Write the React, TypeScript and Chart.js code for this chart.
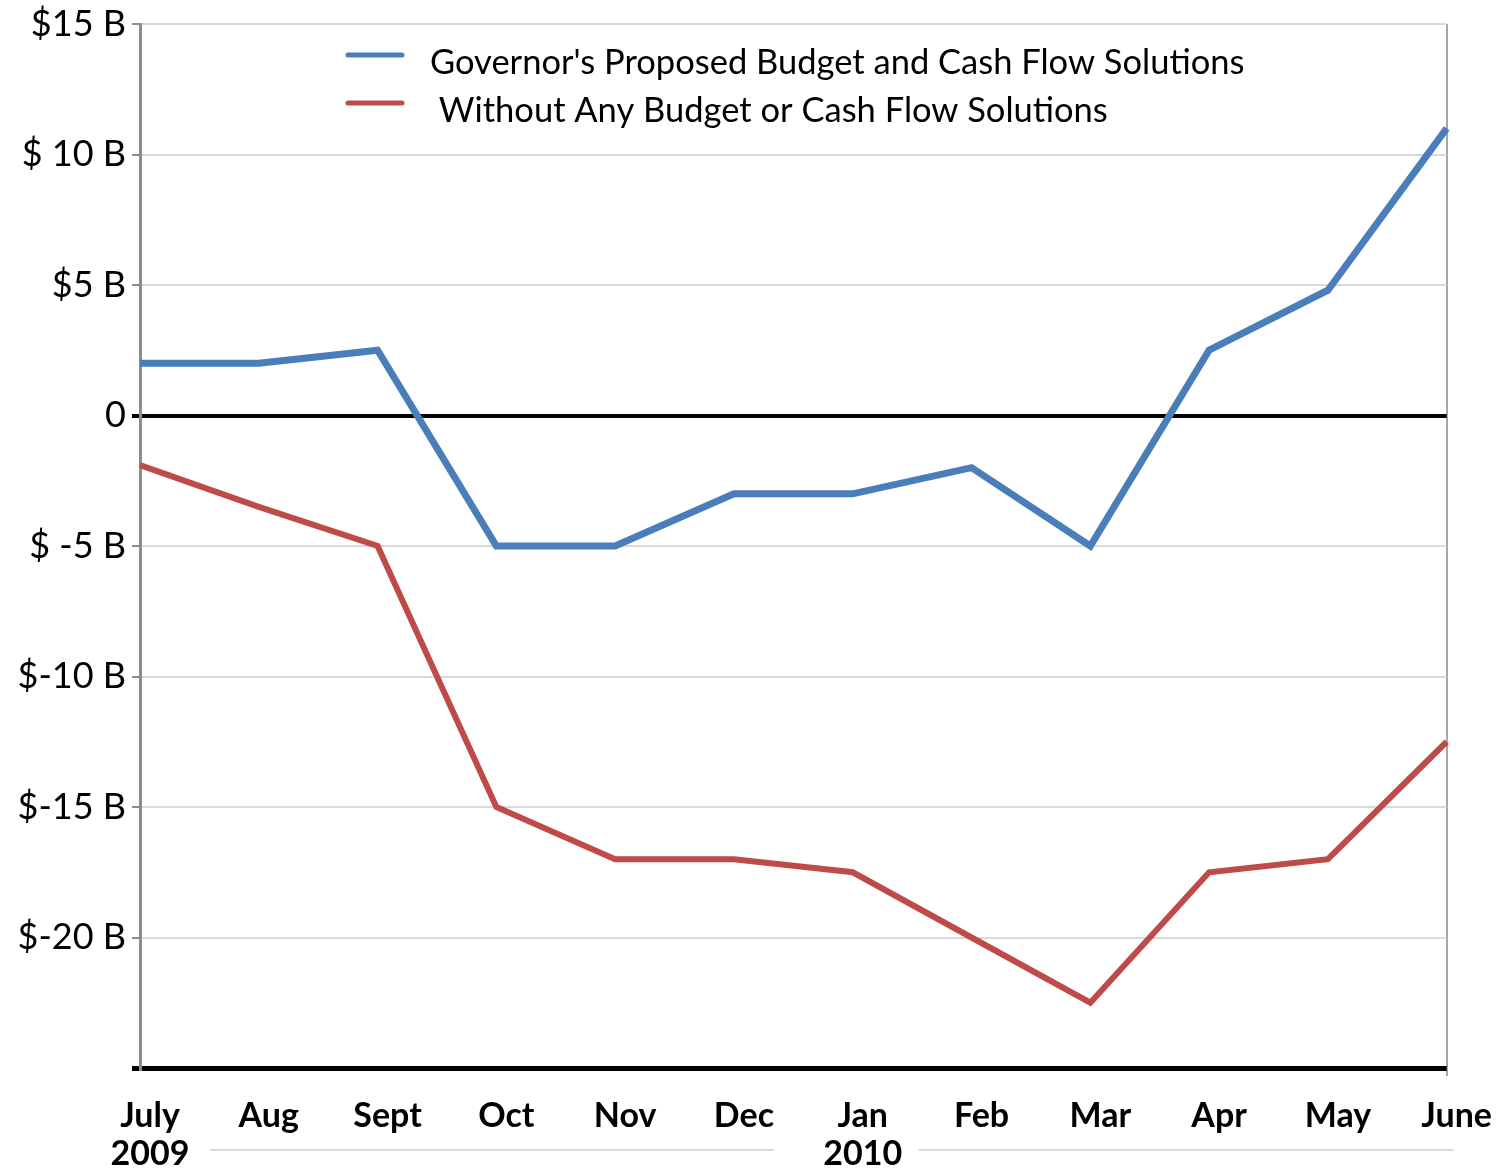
import React, { useEffect, useRef } from "react";
import { Chart, registerables } from "chart.js";

Chart.register(...registerables);

const monthLabels: (string | string[])[] = [
  ["July", "2009"], "Aug", "Sept", "Oct", "Nov", "Dec",
  ["Jan", "2010"], "Feb", "Mar", "Apr", "May", "June",
];
const governorSeries = [2, 2, 2.5, -5, -5, -3, -3, -2, -5, 2.5, 4.8, 11];
const noSolutionSeries = [-1.9, -3.5, -5, -15, -17, -17, -17.5, -20, -22.5, -17.5, -17, -12.5];
const seriesNames = [
  "Governor's Proposed Budget and Cash Flow Solutions",
  " Without Any Budget or Cash Flow Solutions",
];
const yTickValues = [15, 10, 5, 0, -5, -10, -15, -20];
const yTickLabels = ["$15 B", "$ 10 B", "$5 B", "0", "$ -5 B", "$-10 B", "$-15 B", "$-20 B"];

const FONT = "Lato, 'Open Sans', sans-serif";

const legendPlugin = {
  id: "insideLegend",
  afterDraw(chart: any) {
    const { ctx, chartArea } = chart;
    ctx.save();
    chart.data.datasets.forEach((ds: any, i: number) => {
      const y = chartArea.top + 31 + i * 48;
      ctx.strokeStyle = ds.borderColor;
      ctx.lineWidth = 5;
      ctx.lineCap = "round";
      ctx.beginPath();
      ctx.moveTo(chartArea.left + 208, y);
      ctx.lineTo(chartArea.left + 262, y);
      ctx.stroke();
      ctx.fillStyle = "#000";
      ctx.font = `34.5px ${FONT}`;
      ctx.textBaseline = "middle";
      ctx.textAlign = "left";
      ctx.fillText(ds.label, chartArea.left + 290, y + 8);
    });
    ctx.restore();
  },
};

const yearLinePlugin = {
  id: "yearLines",
  afterDraw(chart: any) {
    const { ctx } = chart;
    const x = chart.scales.x;
    const y = 1150;
    ctx.save();
    ctx.strokeStyle = "#d9d9d9";
    ctx.lineWidth = 2;
    ctx.beginPath();
    ctx.moveTo(x.getPixelForValue(0) + 70, y);
    ctx.lineTo(x.getPixelForValue(5) + 40, y);
    ctx.moveTo(x.getPixelForValue(6) + 66, y);
    ctx.lineTo(x.getPixelForValue(11) + 7, y);
    ctx.stroke();
    ctx.restore();
  },
};

export default function App() {
  const ref = useRef<HTMLCanvasElement>(null);
  useEffect(() => {
    if (!ref.current) return;
    const chart = new Chart(ref.current, {
      type: "line",
      data: {
        labels: monthLabels as any,
        datasets: [
          {
            label: seriesNames[0],
            data: governorSeries,
            borderColor: "#4A7EBB",
            borderWidth: 7,
            pointRadius: 0,
            tension: 0,
            clip: false as any,
          },
          {
            label: seriesNames[1],
            data: noSolutionSeries,
            borderColor: "#BE4B48",
            borderWidth: 6,
            pointRadius: 0,
            tension: 0,
            clip: false as any,
          },
        ],
      },
      options: {
        animation: false,
        responsive: false,
        layout: { padding: { left: 0, right: 55, top: 20, bottom: 0 } },
        plugins: { legend: { display: false }, tooltip: { enabled: false } },
        scales: {
          x: {
            offset: false,
            border: { display: false },
            grid: {
              drawOnChartArea: true,
              color: (c: any) => (c.index === 11 ? "#a6a6a6" : "rgba(0,0,0,0)"),
              lineWidth: 2,
              tickLength: 8,
              tickColor: (c: any) => (c.index === 11 ? "#a6a6a6" : "rgba(0,0,0,0)"),
            },
            ticks: {
              color: "#000",
              font: { family: FONT, size: 34, weight: "bold", lineHeight: 1.12 },
              labelOffset: 10,
              padding: 21,
              maxRotation: 0,
              autoSkip: false,
            },
            afterFit: (s: any) => {
              s.height = 1169 - 1068;
            },
          },
          y: {
            min: -25,
            max: 15,
            border: { display: true, color: "#8c8c8c", width: 3 },
            grid: {
              color: (c: any) =>
                c.tick.value === 0 || c.tick.value === -25 ? "#000" : "#d9d9d9",
              lineWidth: (c: any) =>
                c.tick.value === 0 ? 4 : c.tick.value === -25 ? 5 : 2,
              tickLength: 8,
              tickColor: (c: any) =>
                c.tick.value === 0 || c.tick.value === -25 ? "#000" : "#8c8c8c",
            },
            ticks: {
              stepSize: 5,
              color: "#000",
              padding: 6,
              font: { family: FONT, size: 36, lineHeight: 1 },
              callback: (v: any) => {
                const i = yTickValues.indexOf(Number(v));
                return i >= 0 ? yTickLabels[i] : "";
              },
            },
            afterFit: (s: any) => {
              s.width = 140;
            },
          },
        },
      },
      plugins: [legendPlugin, yearLinePlugin],
    });
    return () => chart.destroy();
  }, []);
  return (
    <div style={{ position: "absolute", left: 0, top: 0, width: 1503, height: 1169, background: "#fff" }}>
      <canvas ref={ref} width={1503} height={1169} style={{ width: 1503, height: 1169 }} />
    </div>
  );
}
